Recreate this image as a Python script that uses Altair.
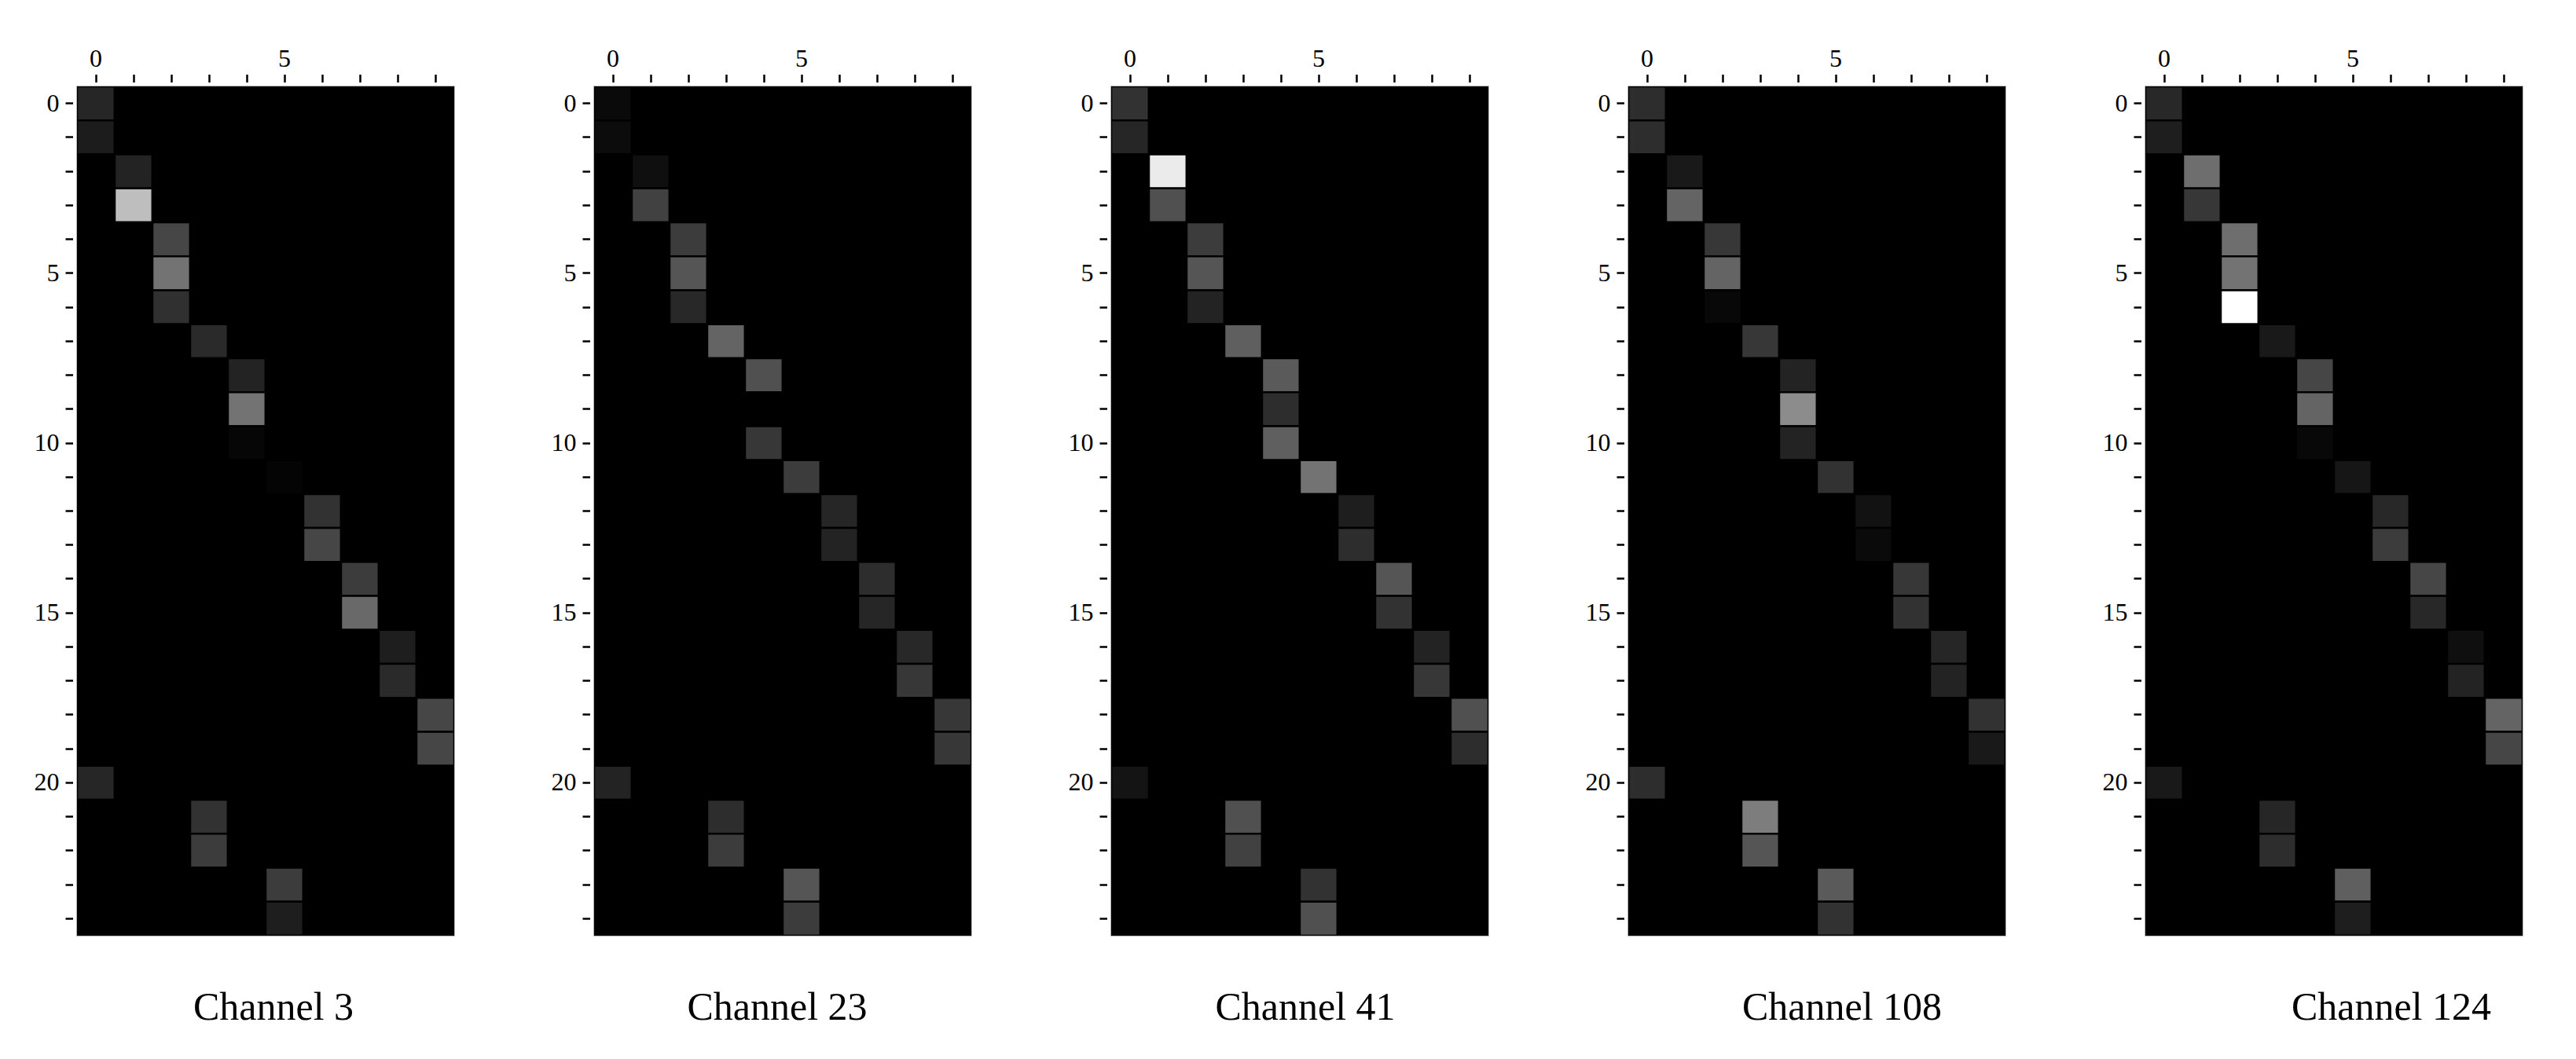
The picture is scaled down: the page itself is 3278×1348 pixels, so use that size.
import altair as alt
import pandas as pd

# ---- data ----
rows = list(range(25))
cols = list(range(10))
# column of the lit cell in each row (same pattern for every channel)
active_col = [0, 0, 1, 1, 2, 2, 2, 3, 4, 4, 4, 5, 6, 6, 7, 7, 8, 8, 9, 9, 0, 3, 3, 5, 5]

channels = ["Channel 3", "Channel 23", "Channel 41", "Channel 108", "Channel 124"]

# grey intensity (0-255) of the lit cell in each row
ch3 = [38, 28, 35, 190, 70, 115, 48, 42, 35, 115, 6, 4, 50, 70, 60, 105, 30, 42, 70, 70, 38, 50, 60, 60, 30]
ch23 = [10, 12, 15, 65, 60, 85, 40, 100, 80, 0, 55, 60, 38, 35, 45, 38, 40, 55, 55, 55, 35, 45, 60, 85, 60]
ch41 = [50, 38, 235, 80, 60, 85, 35, 95, 90, 45, 95, 115, 30, 45, 85, 50, 35, 55, 80, 45, 20, 80, 65, 50, 80]
ch108 = [45, 45, 25, 100, 55, 100, 8, 55, 35, 140, 35, 50, 18, 10, 55, 50, 38, 35, 50, 25, 45, 125, 85, 90, 50]
ch124 = [40, 30, 110, 55, 110, 115, 255, 25, 70, 100, 8, 22, 40, 60, 70, 40, 15, 35, 100, 70, 25, 38, 45, 95, 30]

series = [ch3, ch23, ch41, ch108, ch124]
title_dx = [10, -7, 7, 32, 73]

FONT = "Liberation Serif"


def panel(name, vals, dx):
    recs = []
    for r in rows:
        for c in cols:
            recs.append({"row": r, "col": c, "v": vals[r] if c == active_col[r] else 0})
    df = pd.DataFrame(recs)
    return (
        alt.Chart(
            df,
            title=alt.TitleParams(
                name, orient="bottom", anchor="middle", frame="group",
                fontSize=50, font=FONT, fontWeight="normal", color="black",
                offset=67, baseline="top", dx=dx,
            ),
        )
        .mark_rect(stroke="black", strokeWidth=2.5, clip=True)
        .encode(
            x=alt.X(
                "col:O",
                scale=alt.Scale(domain=cols, paddingInner=0, paddingOuter=0),
                axis=alt.Axis(
                    orient="top", title=None, labelAngle=0, domain=False, grid=False,
                    ticks=True, tickSize=10, tickWidth=2.5, tickColor="black",
                    offset=5.5, labelPadding=3, labelFont=FONT, labelFontSize=32,
                    labelColor="black", labelOverlap=False,
                    labelExpr="datum.value % 5 === 0 ? datum.label : ''",
                ),
            ),
            y=alt.Y(
                "row:O",
                scale=alt.Scale(domain=rows, paddingInner=0, paddingOuter=0),
                axis=alt.Axis(
                    orient="left", title=None, domain=False, grid=False,
                    ticks=True, tickSize=9.5, tickWidth=2.5, tickColor="black",
                    offset=5.5, labelPadding=8, labelFont=FONT, labelFontSize=32,
                    labelColor="black", labelOverlap=False,
                    labelExpr="datum.value % 5 === 0 ? datum.label : ''",
                ),
            ),
            color=alt.Color(
                "v:Q",
                scale=alt.Scale(domain=[0, 255], range=["#000000", "#ffffff"], interpolate="rgb"),
                legend=None,
            ),
        )
        .properties(width=480, height=1081)
    )


panels = [panel(n, s, d) for n, s, d in zip(channels, series, title_dx)]

chart = (
    alt.hconcat(*panels, spacing=178, bounds="flush")
    .properties(padding={"left": 34, "top": 49, "right": 10, "bottom": 10}, background="white")
    .configure_view(stroke="#9a9a9a", strokeWidth=1.5, fill="black")
)

chart.save("out.html", embed_options={"renderer": "svg", "actions": False})
